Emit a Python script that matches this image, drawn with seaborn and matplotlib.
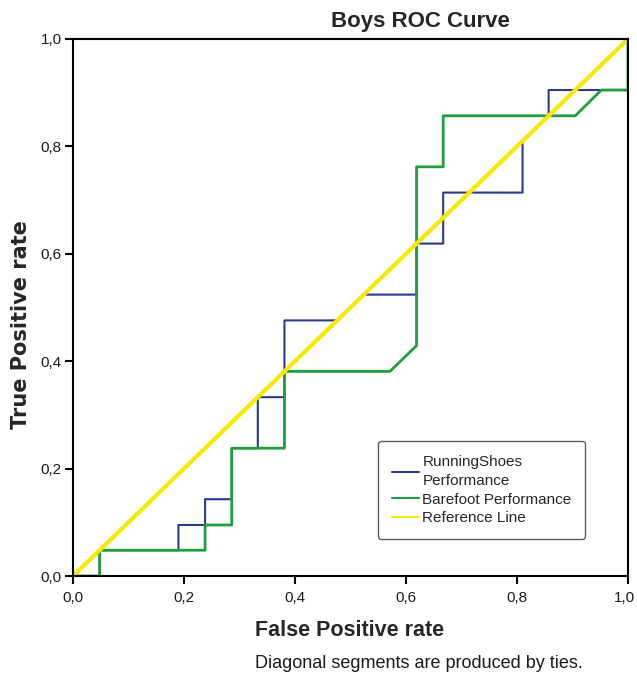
import matplotlib
matplotlib.use("Agg")
import matplotlib.pyplot as plt
import matplotlib.transforms as mtransforms
import seaborn as sns
import pandas as pd

# Data
shoes_fpr = [0.0, 0.048, 0.048, 0.190, 0.190, 0.238, 0.238, 0.286, 0.286, 0.333, 0.333,
             0.381, 0.381, 0.476, 0.524, 0.619, 0.619, 0.667, 0.667, 0.810, 0.810, 0.857,
             0.857, 0.952, 1.0, 1.0]
shoes_tpr = [0.0, 0.0, 0.048, 0.048, 0.095, 0.095, 0.143, 0.143, 0.238, 0.238, 0.333,
             0.333, 0.476, 0.476, 0.524, 0.524, 0.619, 0.619, 0.714, 0.714, 0.810, 0.857,
             0.905, 0.905, 0.905, 1.0]
bare_fpr = [0.0, 0.048, 0.048, 0.238, 0.238, 0.286, 0.286, 0.381, 0.381, 0.571, 0.619,
            0.619, 0.667, 0.667, 0.905, 0.952, 1.0, 1.0]
bare_tpr = [0.0, 0.0, 0.048, 0.048, 0.095, 0.095, 0.238, 0.238, 0.381, 0.381, 0.429,
            0.762, 0.762, 0.857, 0.857, 0.905, 0.905, 1.0]
ref_x = [0.0, 1.0]
ref_y = [0.0, 1.0]
ticks = [0.0, 0.2, 0.4, 0.6, 0.8, 1.0]
tick_labels = ["0,0", "0,2", "0,4", "0,6", "0,8", "1,0"]

sns.set_style("white")
plt.rcParams['font.family'] = ['Liberation Sans', 'DejaVu Sans']

fig = plt.figure(figsize=(6.37, 6.82), dpi=100)
W, H = 637, 682
left, right, top, bottom = 73, 628, 39, 576
ax = fig.add_axes([left / W, 1 - bottom / H, (right - left) / W, (bottom - top) / H])

blue = "#2b3990"
green = "#1e9e3c"
yellow = "#f7ea00"

d1 = pd.DataFrame({"x": shoes_fpr, "y": shoes_tpr})
d2 = pd.DataFrame({"x": bare_fpr, "y": bare_tpr})
d3 = pd.DataFrame({"x": ref_x, "y": ref_y})
sns.lineplot(data=d1, x="x", y="y", sort=False, estimator=None, color=blue, lw=1.5,
             ax=ax, label="RunningShoes\nPerformance")
sns.lineplot(data=d2, x="x", y="y", sort=False, estimator=None, color=green, lw=2.0,
             ax=ax, label="Barefoot Performance")
sns.lineplot(data=d3, x="x", y="y", sort=False, estimator=None, color=yellow, lw=3.0,
             ax=ax, label="Reference Line")

ax.set_xlim(0, 1)
ax.set_ylim(0, 1)
ax.set_xticks(ticks)
ax.set_xticklabels(tick_labels)
ax.set_yticks(ticks)
ax.set_yticklabels(tick_labels)
ax.tick_params(axis="both", direction="out", length=6, width=1.5, labelsize=11,
               colors="black", bottom=True, left=True)
ax.tick_params(axis="x", pad=5)
ax.tick_params(axis="y", pad=2)
for lab in ax.get_xticklabels() + ax.get_yticklabels():
    lab.set_color("#1a1a1a")
# keep the last x tick label inside the canvas
last = ax.get_xticklabels()[-1]
last.set_transform(last.get_transform() +
                   mtransforms.ScaledTranslation(-4 / 100, 0, fig.dpi_scale_trans))
for s in ax.spines.values():
    s.set_color("black")
    s.set_linewidth(1.5)
ax.set_xlabel("")
ax.set_ylabel("")

leg = ax.legend(loc="upper left",
                bbox_to_anchor=((378 - left) / (right - left), 1 - (441 - top) / (bottom - top)),
                frameon=True, fancybox=True, fontsize=11, handlelength=1.8, handletextpad=0.2,
                borderpad=0.9, labelspacing=0.3, edgecolor="#333333", borderaxespad=0)
leg.get_frame().set_linewidth(1.0)
for line in leg.get_lines():
    line.set_linewidth(1.5)
for t in leg.get_texts():
    t.set_linespacing(1.5)

fig.text(420 / W, 1 - 21 / H, "Boys ROC Curve", ha="center", va="center",
         fontsize=16, fontweight="bold")
fig.text(350 / W, 1 - 630 / H, "False Positive rate", ha="center", va="center",
         fontsize=15.5, fontweight="bold")
fig.text(21 / W, 1 - 325 / H, "True Positive rate", ha="center", va="center",
         fontsize=15, fontweight="bold", rotation=90, family="DejaVu Sans")
fig.text(419 / W, 1 - 663 / H, "Diagonal segments are produced by ties.", ha="center",
         va="center", fontsize=13, color="#1a1a1a")

fig.savefig("out.png", dpi=100)
